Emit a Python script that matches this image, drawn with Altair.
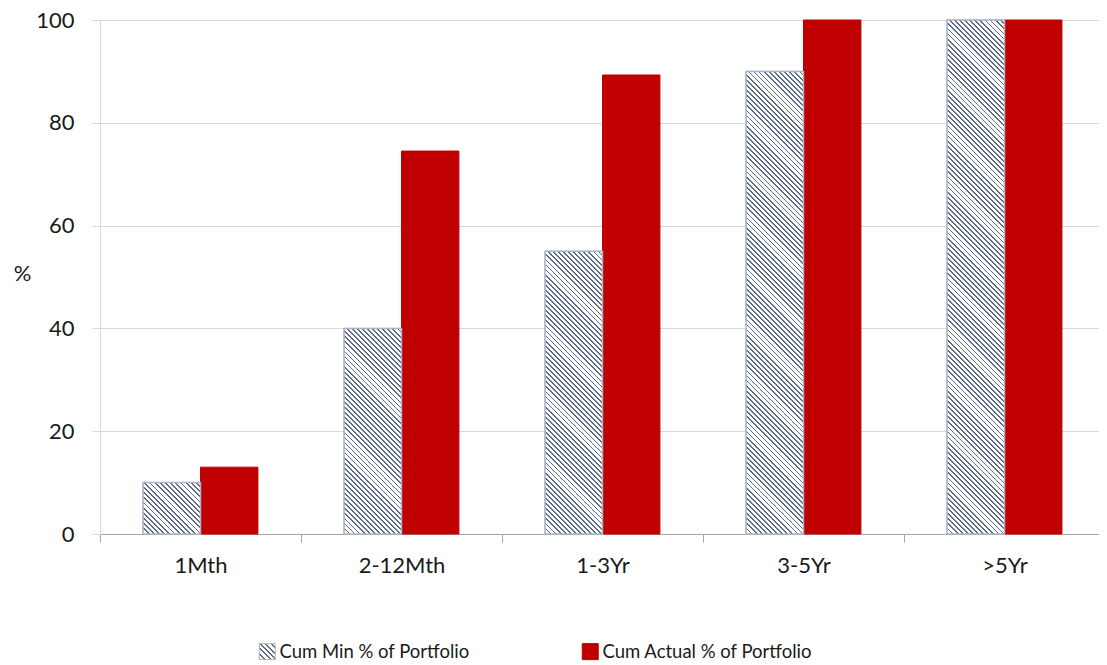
import altair as alt
import pandas as pd
import math
import json

categories = ["1Mth", "2-12Mth", "1-3Yr", "3-5Yr", ">5Yr"]
series_names = ["Cum Min % of Portfolio", "Cum Actual % of Portfolio"]
cum_min = [10, 40, 55, 90, 100]
cum_actual = [13, 74.5, 89.3, 100, 100]
y_ticks = [0, 20, 40, 60, 80, 100]

rows = []
for c, v in zip(categories, cum_min):
    rows.append({"cat": c, "series": series_names[0], "value": v})
for c, v in zip(categories, cum_actual):
    rows.append({"cat": c, "series": series_names[1], "value": v})
df = pd.DataFrame(rows)

W, H = 1005, 514
FONT = "Lato"
TXT = "#1a1a1a"
HATCH_DARK = "#5b6b88"
HATCH_EDGE = "#aab4c8"
RED = "#c00000"
P = 3.6
F = 0.34


def stripe_stops(n):
    stops = []
    for i in range(n):
        a = i / n
        b = (i + F) / n
        stops += [{"offset": a, "color": "#ffffff"},
                  {"offset": a, "color": HATCH_DARK},
                  {"offset": b, "color": HATCH_DARK},
                  {"offset": b, "color": "#ffffff"}]
    stops.append({"offset": 1, "color": "#ffffff"})
    return stops


def hatch_gradient(w, h):
    s = (w + h) / (w * w + h * h)
    n = max(1, int(round((w + h) / math.sqrt(2) / P)))
    return {"gradient": "linear", "stops": stripe_stops(n),
            "x1": 0, "y1": 1, "x2": s * w, "y2": 1 - s * h}


x_enc = alt.X("cat:N", sort=categories, title=None,
              scale=alt.Scale(paddingInner=0, paddingOuter=0),
              axis=alt.Axis(labelAngle=0, tickBand="extent", tickSize=8,
                            domainColor="#a6a6a6", tickColor="#a6a6a6",
                            labelPadding=13, labelFontSize=22, labelFont=FONT,
                            labelColor=TXT, grid=False))
xo_enc = alt.XOffset("series:N", sort=series_names,
                     scale=alt.Scale(paddingOuter=0.75, paddingInner=0))
y_enc = alt.Y("value:Q", title="%",
              scale=alt.Scale(domain=[0, 100], nice=False),
              axis=alt.Axis(values=y_ticks, tickSize=8, labelPadding=18,
                            labelFontSize=22, labelFont=FONT, labelColor=TXT,
                            domainColor="#d9d9d9", tickColor="#d9d9d9",
                            gridColor="#d9d9d9", titleAngle=0, titleFont=FONT,
                            titleFontSize=22, titleFontWeight="normal",
                            titleColor=TXT, titleX=-78, titleY=253,
                            titleAlign="center", titleBaseline="middle"))

legend_kwargs = dict(title=None, orient="none", direction="horizontal",
                     legendX=158, legendY=622, symbolType="square",
                     symbolSize=256, symbolStrokeWidth=1,
                     labelFontSize=18.5, labelFont=FONT, labelColor=TXT,
                     labelLimit=400, columnPadding=110, labelOffset=3, padding=0)

sym_grad = hatch_gradient(16, 16)
bar_w = W / len(categories) / 3.5


def build(fancy):
    if fancy:
        color_range = [{"expr": json.dumps(sym_grad)}, RED]
        stroke_enc = alt.Stroke("series:N", sort=series_names,
                                scale=alt.Scale(domain=series_names, range=[HATCH_EDGE, RED]),
                                legend=alt.Legend(**legend_kwargs))
    else:
        color_range = ["#c3c9d5", RED]
        stroke_enc = alt.value(None)
    base = alt.Chart(df).mark_bar().encode(
        x=x_enc, xOffset=xo_enc, y=y_enc,
        color=alt.Color("series:N", sort=series_names,
                        scale=alt.Scale(domain=series_names, range=color_range),
                        legend=alt.Legend(**legend_kwargs)),
        stroke=stroke_enc,
    )
    hatch_layers = []
    for c, v in zip(categories, cum_min):
        g = hatch_gradient(bar_w, v / 100 * H)
        hatch_layers.append(
            alt.Chart(df).transform_filter(
                (alt.datum.cat == c) & (alt.datum.series == series_names[0])
            ).mark_bar(fill=g, stroke=HATCH_EDGE, strokeWidth=1.5).encode(
                x=x_enc, xOffset=xo_enc, y=y_enc
            )
        )
    return alt.layer(base, *hatch_layers).properties(
        width=W, height=H,
        autosize=alt.AutoSizeParams(type="none"),
        padding={"left": 92, "top": 12, "right": -6, "bottom": 130},
    ).configure_view(stroke=None)


try:
    chart = build(True)
    chart.to_dict()
except Exception:
    chart = build(False)

chart.save("out.html", embed_options={"renderer": "svg", "actions": False})
